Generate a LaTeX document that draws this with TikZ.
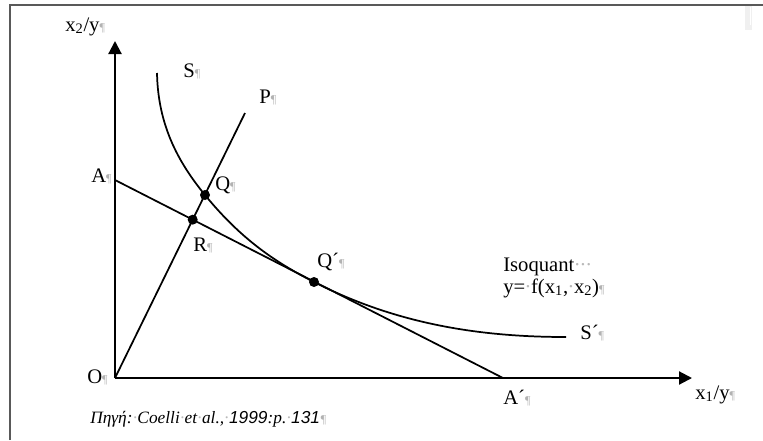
\documentclass[tikz,border=0pt]{standalone}
\usepackage{fontspec}
\setmainfont{Liberation Serif}
\setsansfont{Liberation Sans}
\usetikzlibrary{arrows.meta,calc}
\newcommand\mypil{{\color{gray!60}\fontsize{9}{9}\selectfont ¶}}
\newcommand\mydot{\hbox to 0.28em{\hss\color{gray!55}·\hss}}
\tikzset{
  lbl/.style={anchor=base west,inner sep=0pt,font=\fontsize{15.5}{18}\selectfont},
  dot/.style={circle,fill=black,inner sep=0pt,minimum size=7.5pt},
  axis/.style={line width=1.6pt,-{Triangle[length=9.75pt,width=9.75pt]}},
  ln/.style={line width=1.3pt},
  frame/.style={line width=1.5pt,draw=gray!70!black}
}
\begin{document}
\begin{tikzpicture}[x=0.75pt,y=-0.75pt]
\useasboundingbox (0,0) rectangle (763,440);
% frame
\draw[frame] (9.5,440) -- (9.5,5.3) -- (763,5.3);
\fill[gray!12] (745,6) rectangle (752,30);
\draw[white,line width=0.6pt] (750.5,7) -- (750.5,25);
% key points
\coordinate (O) at (115,378);
\coordinate (Ytop) at (115,41);
\coordinate (Xend) at (692,378);
\coordinate (A) at (115,180);
\coordinate (Ap) at (503,378);
\coordinate (Pend) at (245,113);
\coordinate (Sstart) at (157,73);
\coordinate (Send) at (566,337);
\coordinate (Q) at (205,195);
\coordinate (Qp) at (314,282);
\coordinate (R) at (intersection of O--Pend and A--Ap);
% axes
\draw[axis] (O) -- (Ytop);
\draw[axis] (O) -- (Xend);
% lines
\draw[ln] (O) -- (Pend);
\draw[ln] (A) -- (Ap);
\draw[ln] (Sstart) .. controls (158,125) and (178,162) .. (Q)
  .. controls (240,238) and (274,261.6) .. (Qp)
  .. controls (394,322.8) and (476,337) .. (Send);
% dots
\node[dot] (Qdot) at (Q) {};
\node[dot] (Rdot) at (R) {};
\node[dot] (Qpdot) at (Qp) {};
% labels
\node[lbl] (lx2) at (65,31) {x\textsubscript{2}/y\mypil};
\node[lbl] (lS) at (183,77) {S\mypil};
\node[lbl] (lP) at (259,103) {P\mypil};
\node[lbl] (lA) at (91,182) {A\mypil};
\node[lbl] (lQ) at (215,190) {Q\mypil};
\node[lbl] (lR) at (193,251.5) {R\mypil};
\node[lbl] (lQp) at (317,267) {Q´\mypil};
\node[lbl] (lO) at (87,383) {O\mypil};
\node[lbl] (lIso) at (503,271) {Isoquant\mydot\mydot\mydot};
\node[lbl] (lfun) at (503,293) {y=\mydot f(x\textsubscript{1},\mydot x\textsubscript{2})\mypil};
\node[lbl] (lSp) at (580,339.3) {S´\mypil};
\node[lbl] (lAp) at (503,404) {A´\mypil};
\node[lbl] (lx1) at (695,399) {x\textsubscript{1}/y\mypil};
\node[lbl,font=\fontsize{13}{15}\selectfont\itshape] (src) at (90,423) {Πηγή:\mydot Coelli\mydot et\mydot al.,\mydot{\sffamily 1999}:p.\mydot{\sffamily 131}\mypil};
\end{tikzpicture}
\end{document}
